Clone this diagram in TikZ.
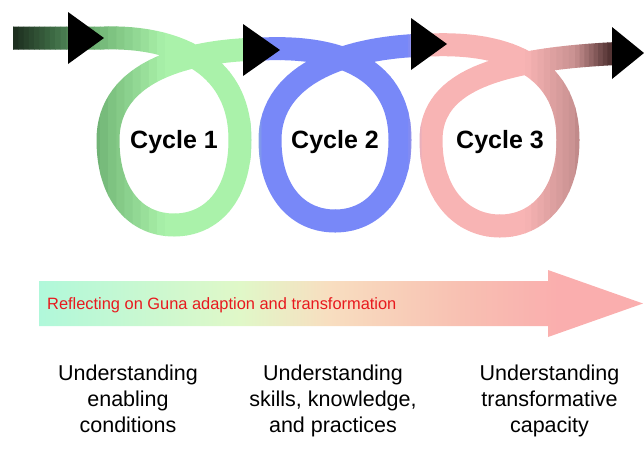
\documentclass[tikz,border=0pt]{standalone}
\usepackage{fontspec}
\setmainfont{Liberation Sans}
\usetikzlibrary{positioning}

\definecolor{dkgreen}{HTML}{1C2C1E}
\definecolor{midgreen}{HTML}{3F6D46}
\definecolor{leafgreen}{HTML}{74B878}
\definecolor{ltgreen}{HTML}{AAF2AA}
\definecolor{loopblue}{HTML}{7888F8}
\definecolor{looppink}{HTML}{F8B4B4}
\definecolor{rosy}{HTML}{C89090}
\definecolor{dkbrown}{HTML}{4A2C2C}
\definecolor{mint}{HTML}{B0F8DA}
\definecolor{palelime}{HTML}{E0F8C8}
\definecolor{peach}{HTML}{F8DEC0}
\definecolor{salmon}{HTML}{F8C0B2}
\definecolor{trackpink}{HTML}{FAAEAE}
\definecolor{reflectred}{HTML}{E8191E}

\pgfdeclarehorizontalshading{trackshade}{100bp}{color(0bp)=(mint); color(25bp)=(mint);
  color(41.6bp)=(palelime); color(49bp)=(peach); color(60bp)=(salmon);
  color(68bp)=(trackpink); color(100bp)=(trackpink)}

% centre line of the looping band
\newcommand{\cyclepath}{(13,38) -- (104,38)
  .. controls (170,36) and (240,60) .. (240,140)
  .. controls (240,195) and (212,225) .. (174,225)
  .. controls (136,225) and (108,195) .. (108,140)
  .. controls (108,70) and (190,50) .. (262,49)
  .. controls (325,46) and (400,60) .. (400,140)
  .. controls (400,192) and (372,221) .. (335,221)
  .. controls (298,221) and (270,192) .. (270,140)
  .. controls (270,72) and (350,46) .. (430,45)
  .. controls (500,42) and (568,62) .. (568,140)
  .. controls (568,195) and (538,226) .. (500,226)
  .. controls (462,226) and (431,195) .. (431,140)
  .. controls (431,80) and (500,58) .. (628,53)}

\begin{document}
\begin{tikzpicture}[x=1pt,y=-1pt,
    cyclelabel/.style={font=\bfseries\fontsize{25}{30}\selectfont,anchor=base,inner sep=0pt},
    tracklabel/.style={font=\fontsize{16.4}{19}\selectfont,text=reflectred,anchor=base west,inner sep=0pt},
    focuslabel/.style={font=\fontsize{21.5}{25.7}\selectfont,align=center,anchor=north,inner sep=0pt}]
  \useasboundingbox (0,0) rectangle (644,448);

  % the three loops, coloured strip by strip from left to right
  \foreach \xa/\xb/\ca/\cb in {0/13/dkgreen/dkgreen, 13/55/dkgreen/midgreen,
      55/100/midgreen/leafgreen, 100/165/leafgreen/ltgreen, 165/250/ltgreen/ltgreen,
      250/262/ltgreen/loopblue, 262/408/loopblue/loopblue, 408/422/loopblue/looppink,
      422/525/looppink/looppink, 525/575/looppink/rosy, 575/612/rosy/dkbrown,
      612/644/dkbrown/dkbrown}
    \foreach \k in {0,...,7} {
      \pgfmathsetmacro\xl{\xa+(\xb-\xa)*\k/8}
      \pgfmathsetmacro\xr{\xa+(\xb-\xa)*(\k+1)/8+0.6}
      \pgfmathtruncatemacro\pc{100*(\k+0.5)/8}
      \begin{scope}
        \clip (\xl,0) rectangle (\xr,260);
        \draw[line width=23pt,\cb!\pc!\ca] \cyclepath;
      \end{scope}
    }
  \foreach \bx/\tx/\ty in {68/104/38, 243/280/50, 411/447/44, 612/644/53}
      \fill[black] (\bx,\ty-26) -- (\tx,\ty) -- (\bx,\ty+26) -- cycle;

  \node[cyclelabel] (cyc1) at (174,148) {Cycle 1};
  \node[cyclelabel] (cyc2) at (335,148) {Cycle 2};
  \node[cyclelabel] (cyc3) at (500,148) {Cycle 3};

  % the long arrow
  \shade[shading=trackshade] (39,281) -- (548,281) -- (548,270) -- (643,303.5)
      -- (548,337) -- (548,326) -- (39,326) -- cycle;
  \node[tracklabel] (reflect) at (47,309) {Reflecting on Guna adaption and transformation};

  \node[focuslabel] (focus1) at (128,365)   {Understanding\\enabling\\conditions};
  \node[focuslabel] (focus2) at (333,365)   {Understanding\\skills, knowledge,\\and practices};
  \node[focuslabel] (focus3) at (549.5,365) {Understanding\\transformative\\capacity};
\end{tikzpicture}
\end{document}
